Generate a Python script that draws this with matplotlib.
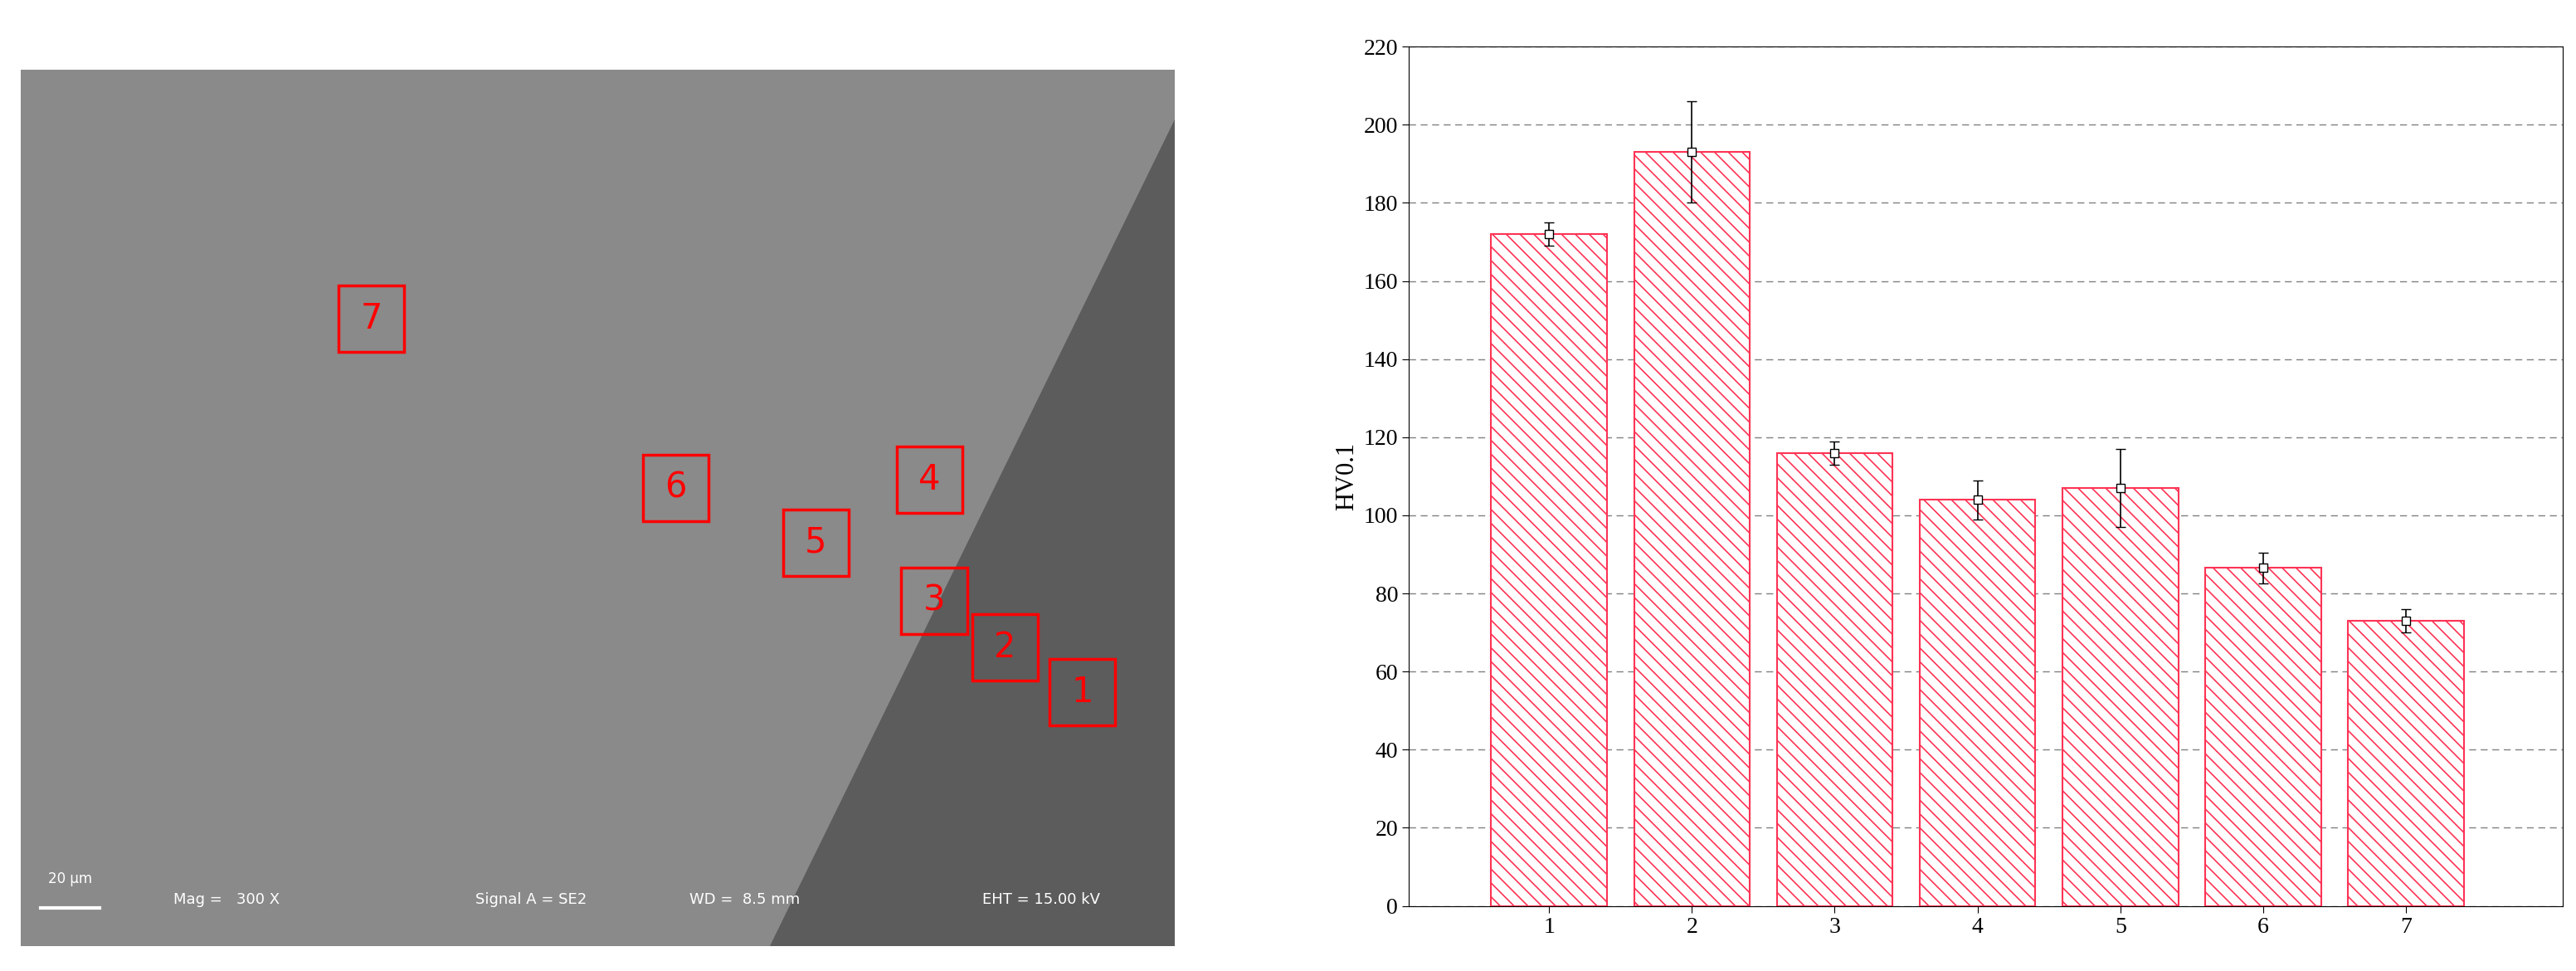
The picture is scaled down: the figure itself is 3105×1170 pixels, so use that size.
import matplotlib
matplotlib.use("Agg")
import matplotlib.pyplot as plt
from matplotlib.patches import Rectangle
import numpy as np

positions = [1, 2, 3, 4, 5, 6, 7]
hardness = [172, 193, 116, 104, 107, 86.5, 73]
errors = [3, 13, 3, 5, 10, 4, 3]
yticks = list(range(0, 221, 20))

plt.rcParams['font.family'] = ['Liberation Serif', 'DejaVu Serif']
plt.rcParams['hatch.linewidth'] = 1.2
fig = plt.figure(figsize=(31.05, 11.7), dpi=100)

# Left: SEM micrograph placeholder
axl = fig.add_axes([0.008, 0.026, 0.448, 0.902])
axl.set_xlim(0, 701); axl.set_ylim(528, 0)
axl.add_patch(Rectangle((0, 0), 701, 528, color='#8a8a8a'))
axl.fill([455, 701, 701], [528, 528, 30], color='#5c5c5c')
boxes = [(645, 375, '1'), (598, 348, '2'), (555, 320, '3'), (552, 247, '4'), (483, 285, '5'), (398, 252, '6'), (213, 150, '7')]
for x, y, t in boxes:
    axl.add_patch(Rectangle((x - 20, y - 20), 40, 40, fill=False, ec='red', lw=2.5))
    axl.text(x, y, t, color='red', fontsize=30, ha='center', va='center', family='DejaVu Sans')
for x, t in [(125, 'Mag =   300 X'), (310, 'Signal A = SE2'), (440, 'WD =  8.5 mm'), (620, 'EHT = 15.00 kV')]:
    axl.text(x, 500, t, color='white', fontsize=13, ha='center', va='center', family='DejaVu Sans')
axl.plot([12, 48], [505, 505], color='white', lw=3)
axl.text(30, 490, '20 µm', color='white', fontsize=12, ha='center', family='DejaVu Sans')
axl.axis('off')

# Right: hardness bars
ax = fig.add_axes([0.547, 0.067, 0.448, 0.885])
ax.bar(positions, hardness, width=0.81, facecolor='white', edgecolor='#ff3355',
       hatch='\\\\', linewidth=1.5, zorder=2)
ax.errorbar(positions, hardness, yerr=errors, fmt='s', mfc='white', mec='black',
            ms=7, color='black', capsize=4, lw=1.2, zorder=3)
ax.set_xlim(0.02, 8.1)
ax.set_ylim(0, 220)
ax.set_yticks(yticks)
ax.set_xticks(positions)
ax.tick_params(labelsize=20, direction='out', length=6)
ax.yaxis.grid(True, linestyle=(0, (6, 4)), color='gray', lw=1, zorder=0)
ax.set_axisbelow(True)
ax.set_ylabel('HV0.1', fontsize=22)
fig.savefig('out.png', dpi=100)
